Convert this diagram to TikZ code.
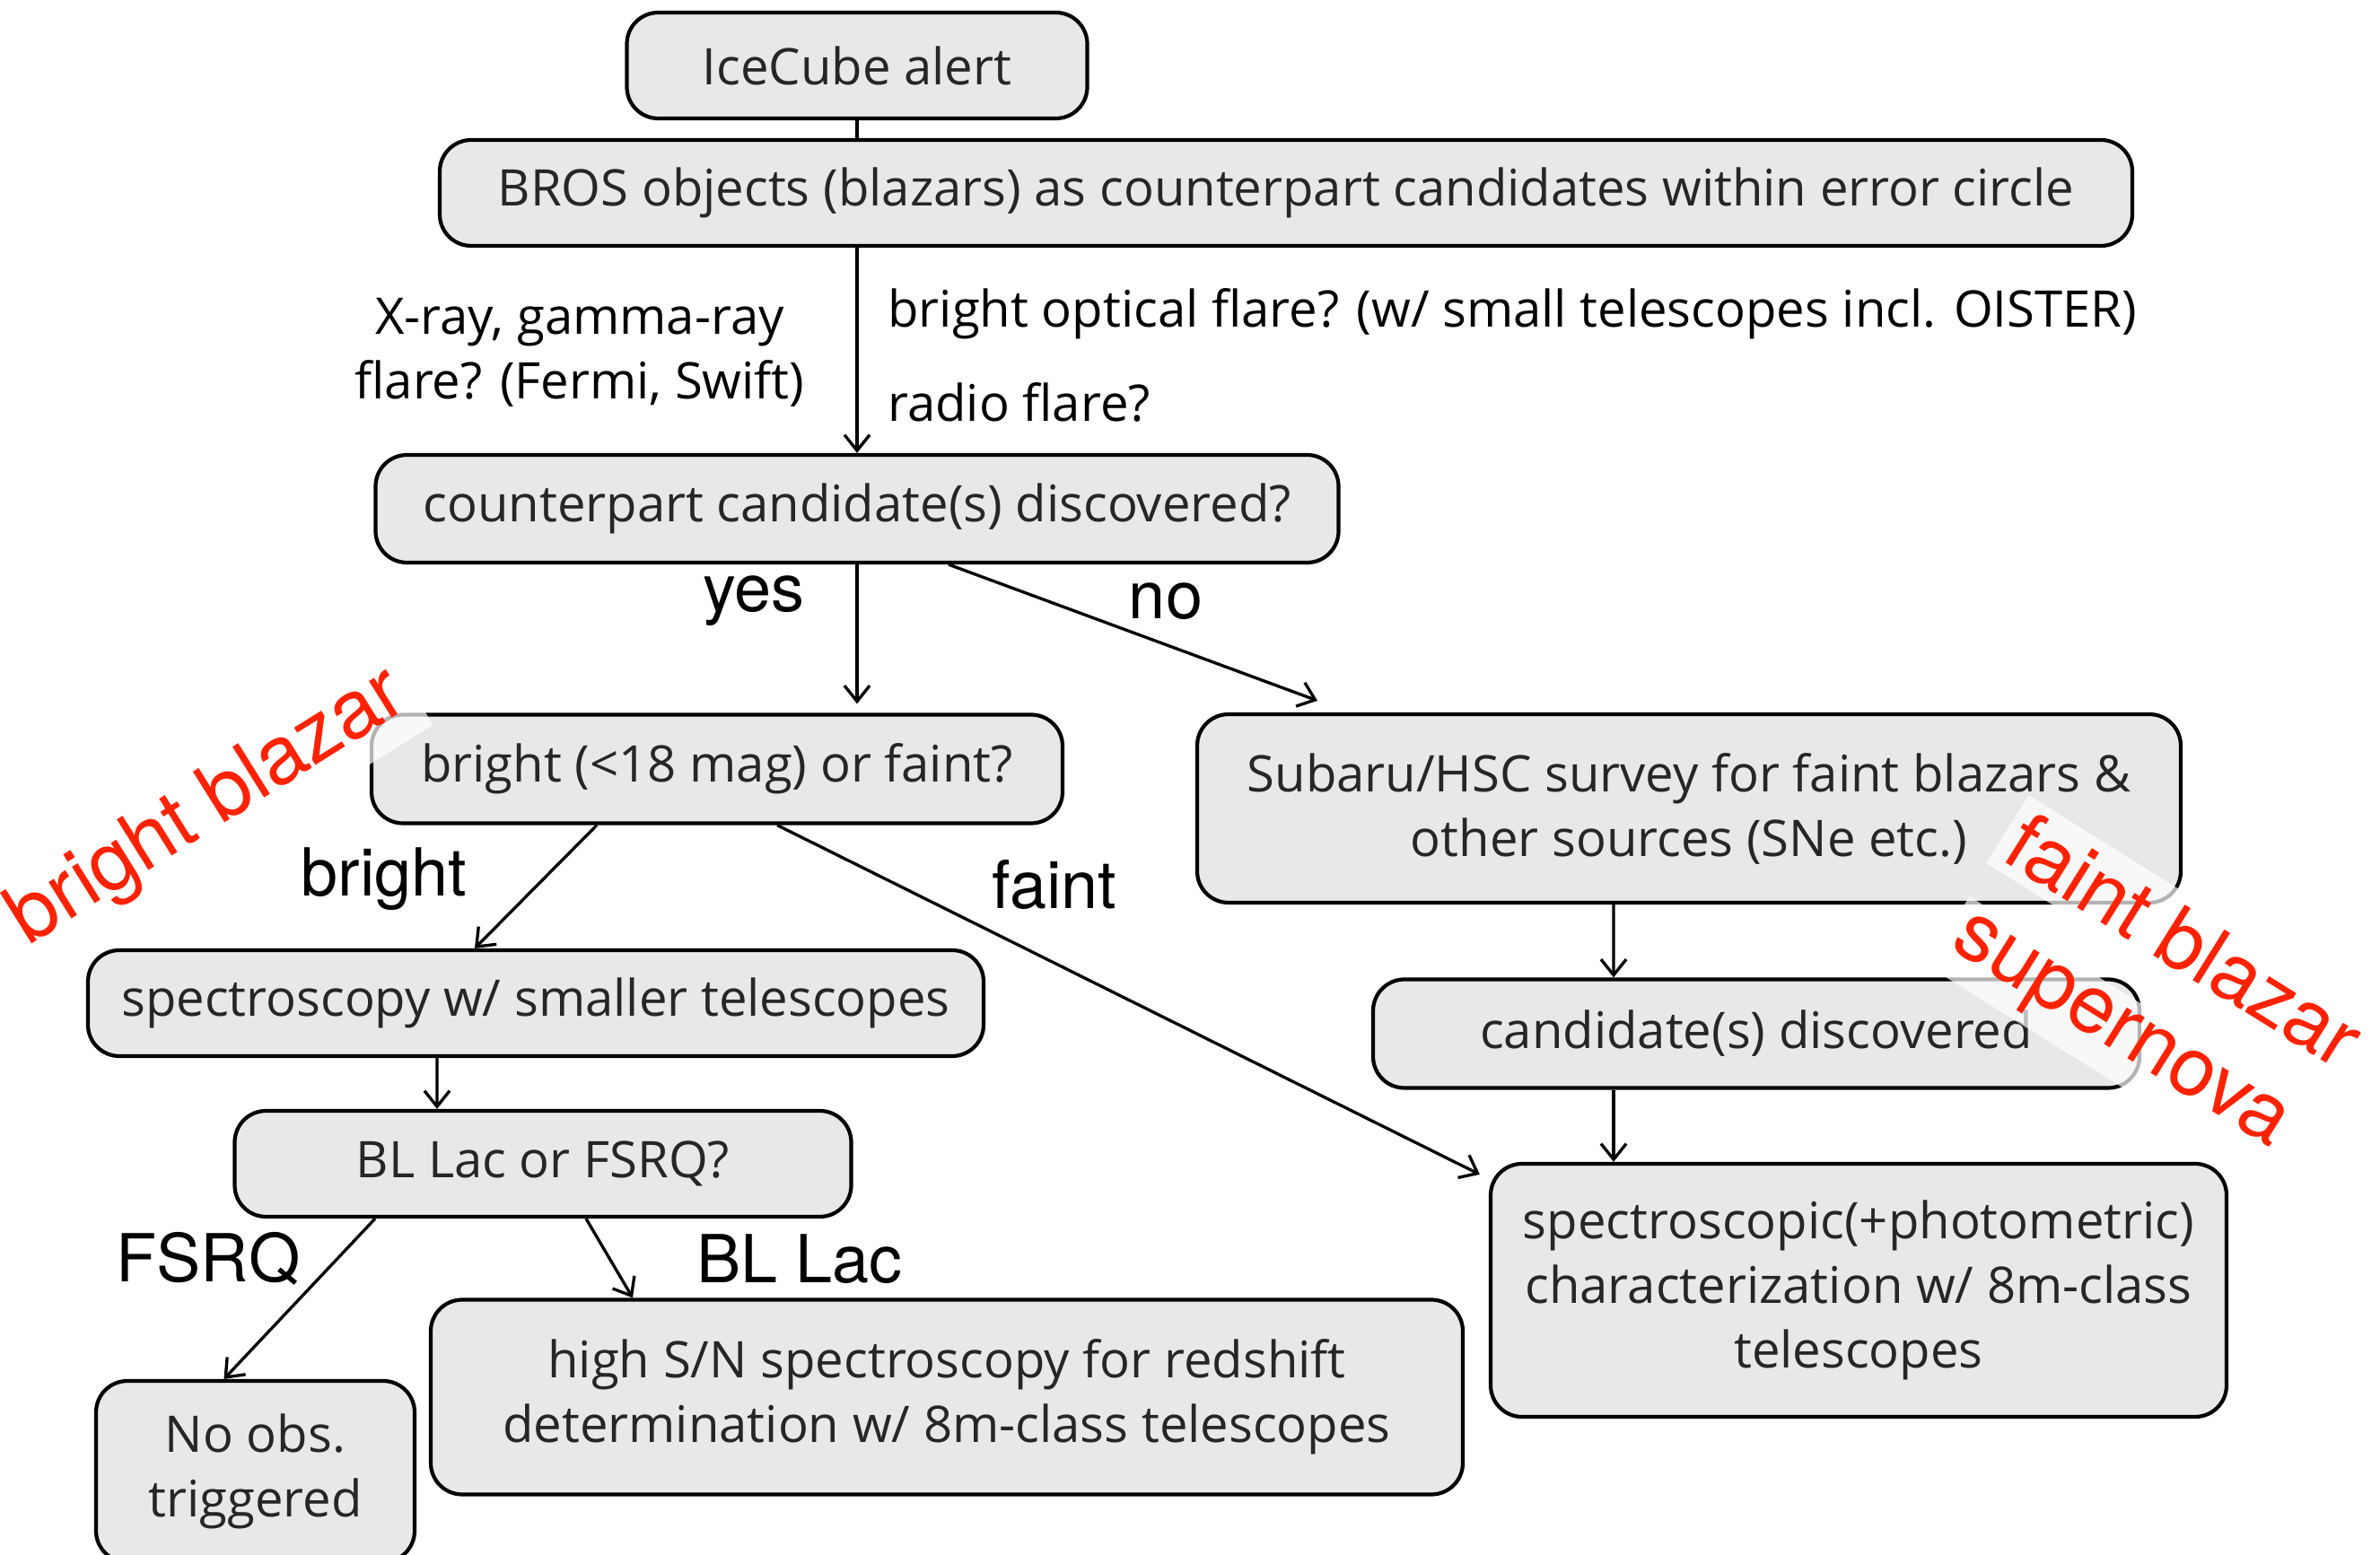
\documentclass[tikz,border=0pt]{standalone}
\usepackage{fontspec}
\setmainfont{Open Sans}
\newfontfamily\helvfam{TeX Gyre Heros}
\usetikzlibrary{arrows, arrows.meta, positioning}
\definecolor{notered}{RGB}{255,34,0}
\newcommand\flowfont{\fontsize{16}{20.5}\selectfont}
\newcommand\answerfont{\helvfam\fontsize{21}{24}\selectfont}
\newcommand\notefont{\helvfam\fontsize{26}{30}\selectfont}

\begin{document}
\begin{tikzpicture}
  [box/.style={rectangle, rounded corners=3.5mm, draw=black, fill=gray!18, line width=1.2pt,
     text=black!85, font=\flowfont, align=center, inner sep=2pt},
   lbl/.style={font=\flowfont, align=center},
   answer/.style={font=\answerfont},
   note/.style={text=notered, font=\notefont, fill=white, fill opacity=0.7, text opacity=1, inner sep=3pt},
   line width=0.95pt, >={Straight Barb[length=5pt, width=8pt]}]
  \useasboundingbox (0, 0) rectangle (26.52, -17.33);
  \node (alert) at (9.55, -0.73) [box, minimum width=5.13cm, minimum height=1.18cm] {IceCube alert};
  \node (bros) at (14.33, -2.15) [box, minimum width=18.86cm, minimum height=1.18cm]
    {BROS objects (blazars) as counterpart candidates within error circle};
  \node (cand) at (9.55, -5.67) [box, minimum width=10.73cm, minimum height=1.2cm]
    {counterpart candidate(s) discovered?};
  \node (bright) at (7.99, -8.57) [box, minimum width=7.7cm, minimum height=1.21cm]
    {bright (<18 mag) or faint?};
  \node (subaru) at (18.82, -9.01) [box, minimum width=10.96cm, minimum height=2.1cm]
    {Subaru/HSC survey for faint blazars \&\\other sources (SNe etc.)};
  \node (spectro) at (5.97, -11.18) [box, minimum width=9.98cm, minimum height=1.18cm]
    {spectroscopy w/ smaller telescopes};
  \node (blq) at (6.05, -12.97) [box, minimum width=6.87cm, minimum height=1.18cm]
    {BL Lac or FSRQ?};
  \node (candd) at (19.57, -11.52) [box, minimum width=8.54cm, minimum height=1.21cm]
    {candidate(s) discovered};
  \node (spec) at (20.71, -14.38) [box, minimum width=8.2cm, minimum height=2.82cm]
    {spectroscopic(+photometric)\\characterization w/ 8m-class\\telescopes};
  \node (hisn) at (10.55, -15.57) [box, minimum width=11.5cm, minimum height=2.17cm]
    {high S/N spectroscopy for redshift\\determination w/ 8m-class telescopes};
  \node (noobs) at (2.845, -16.4) [box, minimum width=3.55cm, minimum height=2.02cm]
    {No obs.\\triggered};

  \node (xray) at (6.46, -3.93) [lbl] {X-ray, gamma-ray\\flare? (Fermi, Swift)};
  \node (optical) at (9.76, -3.5) [lbl, anchor=west]
    {bright optical flare? (w/ small telescopes incl. OISTER)};
  \node (radio) at (9.76, -4.48) [lbl, anchor=west] {radio flare?};

  \node (yes) at (8.4, -6.7) [answer] {yes};
  \node (no) at (12.99, -6.7) [answer] {no};
  \node (brightlbl) at (4.28, -9.8) [answer] {bright};
  \node (faintlbl) at (11.75, -9.86) [answer] {faint};
  \node (fsrq) at (2.32, -14.03) [answer] {FSRQ};
  \node (bllac) at (8.91, -14.03) [answer] {BL Lac};

  \draw (alert) to (alert |- bros.north);
  \draw [->] (bros.south -| cand) to (cand);
  \draw [->, shorten >=1mm] (cand) to (cand |- bright.north);
  \draw [->] ([xshift=1.02cm]cand.south) to ([xshift=-4.14cm, yshift=1.3mm]subaru.north);
  \draw [->] ([xshift=-1.34cm]bright.south) to ([xshift=-0.68cm]spectro.north);
  \draw [->] ([xshift=0.67cm]bright.south) to ([xshift=-1mm, yshift=-1.4mm]spec.north west);
  \draw [->] ([xshift=-1.1cm]spectro.south) to ([xshift=-1.18cm]blq.north);
  \draw [->] ([xshift=-1.87cm]blq.south) to ([xshift=-0.35cm]noobs.north);
  \draw [->] ([xshift=0.48cm]blq.south) to ([xshift=-3.5cm]hisn.north);
  \draw [->] ([xshift=-0.84cm]subaru.south) to ([xshift=-1.59cm]candd.north);
  \draw [->] ([xshift=-1.59cm]candd.south) to ([xshift=-2.73cm]spec.north);

  \node (brightblazar) at (2.32, -9.01) [note, rotate=32] {bright blazar};
  \node (faintblazar) at (24.35, -10.48) [note, rotate=-32] {faint blazar};
  \node (supernova) at (23.59, -11.55) [note, rotate=-32] {supernova};
  \node (page) at (26.4, -17.33) [anchor=south west, font=\helvfam\fontsize{14}{16}\selectfont] {1};
\end{tikzpicture}
\end{document}
